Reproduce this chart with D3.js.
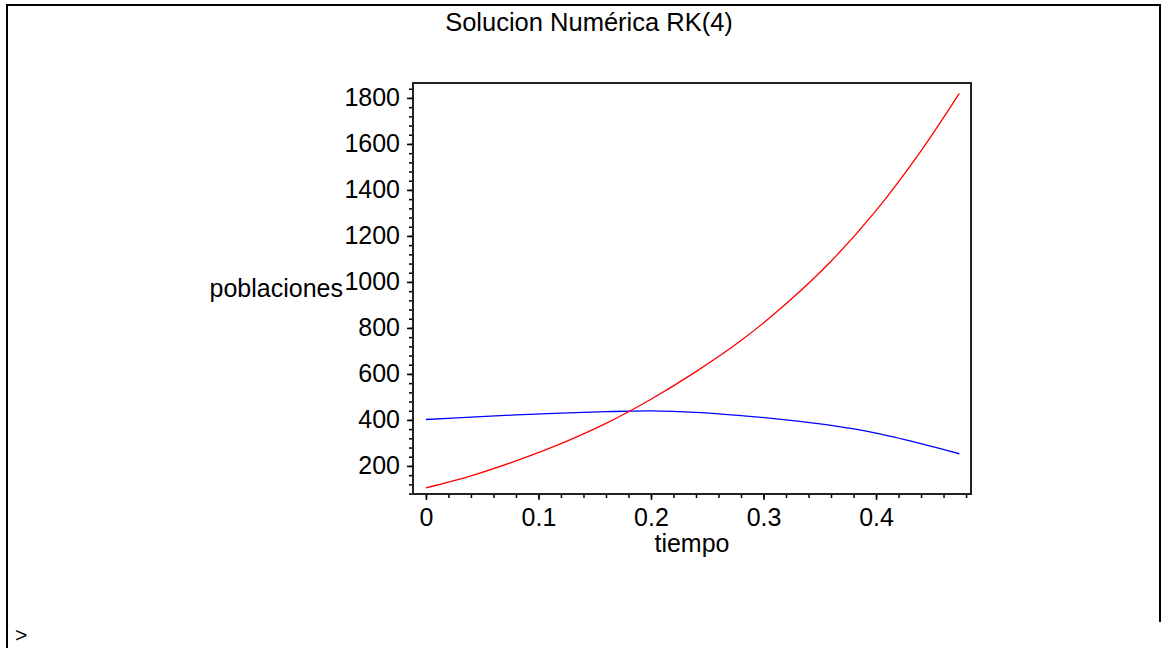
<!DOCTYPE html>
<html>
<head>
<meta charset="utf-8">
<script src="https://cdn.jsdelivr.net/npm/d3@7"></script>
<style>
    body { margin: 0; background: #fff; }
    text { font-family: 'Liberation Sans', Arial, sans-serif; fill: #000; }
</style>
</head>
<body>
<svg id="chart"></svg>
<script>
// values
const tiempo = [0, 0.04, 0.08, 0.12, 0.16, 0.2, 0.24, 0.28, 0.32, 0.36, 0.4, 0.44, 0.474]
const rojo = [105, 157, 222, 297, 385, 490, 610, 745, 905, 1090, 1310, 1570, 1820]
const azul = [402, 412, 422, 430, 436, 439, 433, 419, 400, 376, 343, 297, 253]
const xTicks = [0, 0.1, 0.2, 0.3, 0.4]
const yTicks = [200, 400, 600, 800, 1000, 1200, 1400, 1600, 1800]
const titulo = 'Solucion Numérica RK(4)'

const width = 1163
const height = 648
const margin = { top: 83, left: 413, bottom: 154, right: 192 }
const iwidth = width - margin.left - margin.right
const iheight = height - margin.top - margin.bottom

const svg = d3.select('#chart').attr('width', width).attr('height', height)

// worksheet border
svg.append('path')
    .attr('d', `M7,${height} V5 H1160 V622`)
    .attr('fill', 'none')
    .attr('stroke', '#000')
    .attr('stroke-width', 2)

svg.append('text')
    .attr('x', 15)
    .attr('y', 642)
    .style('font-size', '21px')
    .text('>')

svg.append('text')
    .attr('x', 589)
    .attr('y', 31)
    .attr('text-anchor', 'middle')
    .style('font-size', '25.5px')
    .text(titulo)

const g = svg.append('g').attr('transform', `translate(${margin.left},${margin.top})`)

const x = d3.scaleLinear().domain([-0.0115, 0.4844]).range([0, iwidth])
const y = d3.scaleLinear().domain([78, 1865]).range([iheight, 0])

// minor ticks
g.append('g')
    .attr('transform', `translate(0,${iheight})`)
    .call(d3.axisBottom(x).tickValues(d3.range(0, 25).map((i) => i * 0.02)).tickSize(4).tickFormat(''))
g.append('g')
    .call(d3.axisLeft(y).tickValues(d3.range(2, 47).map((i) => i * 40)).tickSize(4).tickFormat(''))

// major ticks
g.append('g')
    .attr('transform', `translate(0,${iheight})`)
    .call(d3.axisBottom(x).tickValues(xTicks).tickSize(6).tickPadding(8).tickFormat((d) => d))
g.append('g')
    .call(d3.axisLeft(y).tickValues(yTicks).tickSize(6).tickPadding(7).tickFormat(d3.format('d')))

g.selectAll('.domain').remove()
g.selectAll('.tick line').attr('stroke', '#000').attr('stroke-width', 1.5)
g.selectAll('.tick text').style('font-size', '25px').style('font-family', "'Liberation Sans', Arial, sans-serif")

g.append('rect')
    .attr('width', iwidth)
    .attr('height', iheight)
    .attr('fill', 'none')
    .attr('stroke', '#222')
    .attr('stroke-width', 2)

const line = d3.line()
    .x((d, i) => x(tiempo[i]))
    .y((d) => y(d))
    .curve(d3.curveCatmullRom)

g.append('path')
    .datum(azul)
    .attr('fill', 'none')
    .attr('stroke', '#0000ff')
    .attr('stroke-width', 1.3)
    .attr('d', line)

g.append('path')
    .datum(rojo)
    .attr('fill', 'none')
    .attr('stroke', '#ff0000')
    .attr('stroke-width', 1.3)
    .attr('d', line)

g.append('text')
    .attr('x', iwidth / 2)
    .attr('y', 552 - margin.top)
    .attr('text-anchor', 'middle')
    .style('font-size', '25px')
    .text('tiempo')

g.append('text')
    .attr('x', 343 - margin.left)
    .attr('y', 297 - margin.top)
    .attr('text-anchor', 'end')
    .style('font-size', '25px')
    .text('poblaciones')
</script>
</body>
</html>
